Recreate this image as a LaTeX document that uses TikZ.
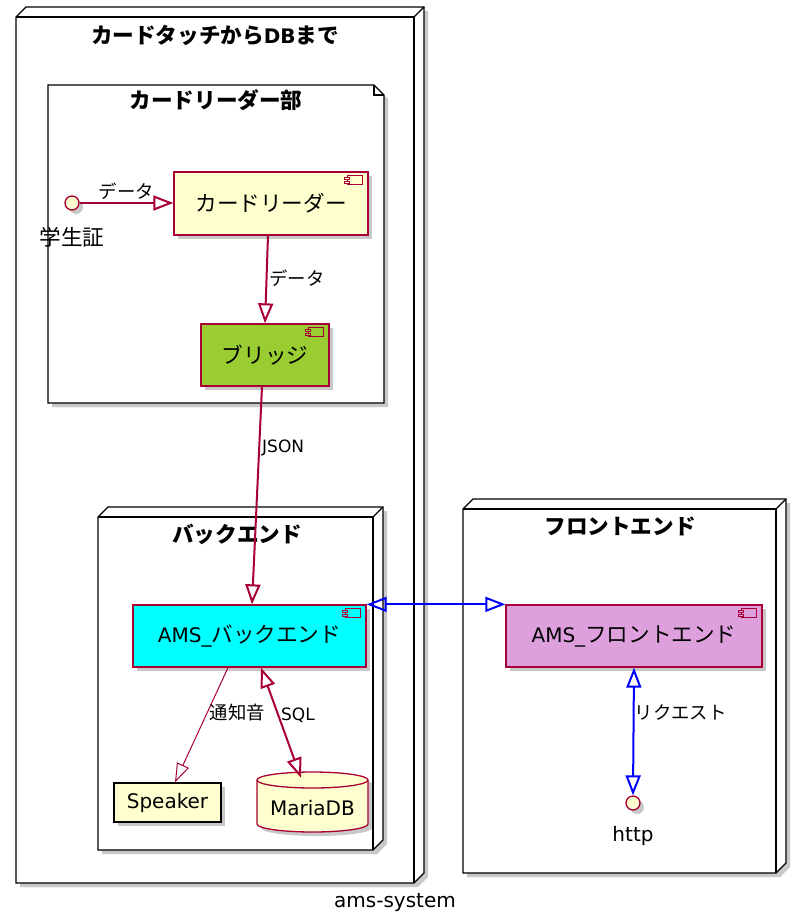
\documentclass[tikz,border=0pt]{standalone}
\usepackage{fontspec}
\setmainfont{DejaVu Sans}
\newfontfamily\jp{Noto Sans CJK JP}[Scale=1.08]
\usetikzlibrary{arrows.meta,shadows,calc}
\definecolor{umlred}{HTML}{A80036}
\definecolor{umlyel}{HTML}{FEFECE}
\definecolor{brgreen}{HTML}{9ACD32}
\definecolor{bkcyan}{HTML}{00FFFF}
\definecolor{feplum}{HTML}{DDA0DD}
\definecolor{linkblue}{HTML}{0000FF}
\tikzset{
  shad/.style={drop shadow={shadow xshift=4pt,shadow yshift=-4pt,opacity=0.3,fill=black!70}},
  cont/.style={draw=black,line width=1.3pt,fill=white},
  comp/.style={draw=umlred,line width=1.3pt,inner sep=0pt,font=\fontsize{20}{24}\selectfont,shad},
  lbl/.style={font=\fontsize{17}{20}\selectfont,inner sep=2pt},
  ttl/.style={font=\fontsize{20}{24}\selectfont\bfseries,inner sep=0pt},
  conn/.style={draw=umlred,line width=2pt},
  thinconn/.style={draw=umlred,line width=1pt},
  bconn/.style={draw=linkblue,line width=2pt},
  tipend/.style={-{Triangle[open,length=20pt,width=15pt]}},
  tipboth/.style={{Triangle[open,length=20pt,width=15pt]}-{Triangle[open,length=20pt,width=15pt]}},
  tipthin/.style={-{Triangle[open,length=19pt,width=13pt]}},
  iface/.style={circle,draw=umlred,fill=umlyel,line width=1.3pt,minimum size=14pt,inner sep=0pt,shad},
  pics/cicon/.style={code={
    \draw[umlred,line width=1.2pt,fill=#1] (-7.5,-4.5) rectangle (7.5,4.5);
    \draw[umlred,line width=1.2pt,fill=#1] (-10,0.8) rectangle (-5,2.8);
    \draw[umlred,line width=1.2pt,fill=#1] (-10,-2.8) rectangle (-5,-0.8);
  }}
}
\begin{document}
\begin{tikzpicture}[x=1pt,y=1pt]
\useasboundingbox (0,0) rectangle (802,-918);
\fill[white] (0,0) rectangle (802,-918);

% outer node
\draw[cont,shad] (16,-17) -- (26,-7) -- (424,-7) -- (424,-873) -- (414,-883) -- (16,-883) -- cycle;
\draw[line width=1.3pt] (16,-17) -- (414,-17) -- (414,-883);
\draw[line width=1.3pt] (414,-17) -- (424,-7);
\node[ttl] (t1) at (215,-35) {{\jp カードタッチから}DB{\jp まで}};

% package
\draw[cont,shad] (48,-85) -- (374,-85) -- (384,-95) -- (384,-403) -- (48,-403) -- cycle;
\draw[line width=1.3pt] (374,-85) -- (374,-95) -- (384,-95);
\node[ttl] (t2) at (216,-100) {\jp カードリーダー部};

% backend node
\draw[cont,shad] (98,-517) -- (108,-507) -- (383,-507) -- (383,-840) -- (373,-850) -- (98,-850) -- cycle;
\draw[line width=1.3pt] (98,-517) -- (373,-517) -- (373,-850);
\draw[line width=1.3pt] (373,-517) -- (383,-507);
\node[ttl] (t3) at (237,-534) {\jp バックエンド};

% frontend node
\draw[cont,shad] (463,-509) -- (473,-499) -- (786,-499) -- (786,-863) -- (776,-873) -- (463,-873) -- cycle;
\draw[line width=1.3pt] (463,-509) -- (776,-509) -- (776,-873);
\draw[line width=1.3pt] (776,-509) -- (786,-499);
\node[ttl] (t4) at (620,-526) {\jp フロントエンド};

% components
\node[comp,fill=umlyel,minimum width=194pt,minimum height=63pt] (reader) at (271,-203.5) {\raisebox{-3pt}{\jp カードリーダー}};
\pic at ($(reader.north east)+(-14,-9)$) {cicon=umlyel};
\node[comp,fill=brgreen,minimum width=128pt,minimum height=62pt] (bridge) at (265,-355) {\raisebox{-3pt}{\jp ブリッジ}};
\pic at ($(bridge.north east)+(-14,-9)$) {cicon=brgreen};
\node[comp,fill=bkcyan,minimum width=233pt,minimum height=62pt] (back) at (249.5,-636) {\raisebox{-3pt}{AMS\_{\jp バックエンド}}};
\pic at ($(back.north east)+(-14,-9)$) {cicon=bkcyan};
\node[comp,fill=feplum,minimum width=256pt,minimum height=62pt] (front) at (634,-636) {\raisebox{-3pt}{AMS\_{\jp フロントエンド}}};
\pic at ($(front.north east)+(-14,-9)$) {cicon=feplum};
\node[comp,draw=black,fill=umlyel,minimum width=107pt,minimum height=39pt] (speaker) at (167.5,-802.5) {Speaker};

% database
\draw[draw=umlred,fill=umlyel,line width=1.3pt,shad] (257,-780) -- (257,-824) arc[start angle=180,end angle=360,x radius=55.5,y radius=8] -- (368,-780) arc[start angle=0,end angle=180,x radius=55.5,y radius=8] -- cycle;
\draw[umlred,line width=1.3pt] (257,-780) arc[start angle=180,end angle=360,x radius=55.5,y radius=8];
\node[inner sep=0pt,minimum width=111pt,minimum height=60pt,font=\fontsize{20}{24}\selectfont] (db) at (312.5,-808) {MariaDB};

% interfaces
\node[iface] (sid) at (72,-203) {};
\node[font=\fontsize{20}{24}\selectfont\jp,inner sep=0pt] (sidl) at (72,-237) {学生証};
\node[iface] (http) at (633,-803) {};
\node[font=\fontsize{20}{24}\selectfont,inner sep=0pt] (httpl) at (633,-836) {http};

% connectors
\draw[conn,tipend] (sid) -- (reader.west |- sid) node[lbl,above,pos=0.5] {\jp データ};
\draw[conn,tipend] ($(reader.south)+(-3,0)$) -- (bridge.north) node[lbl,right,pos=0.48] {\jp データ};
\draw[conn,tipend] ($(bridge.south)+(-3,0)$) -- ($(back.north)+(2.5,0)$) node[lbl,right,pos=0.28] {JSON};
\draw[bconn,tipboth] (back.north east) -- (front.north west);
\draw[thinconn,tipthin] ($(back.south)+(-21.5,0)$) -- ($(speaker.north)+(7.5,0)$) node[lbl,right,pos=0.39] {\jp 通知音};
\draw[conn,tipboth] ($(back.south)+(11.5,0)$) -- ($(db.north)+(-11.5,0)$) node[lbl,right,pos=0.43] {SQL};
\draw[bconn,tipboth] (front.south) -- (http.north) node[lbl,right,pos=0.35,xshift=-2pt] {\jp リクエスト};

% caption
\node[font=\fontsize{20}{24}\selectfont,inner sep=0pt] (cap) at (395,-903) {ams-system};
\end{tikzpicture}
\end{document}
